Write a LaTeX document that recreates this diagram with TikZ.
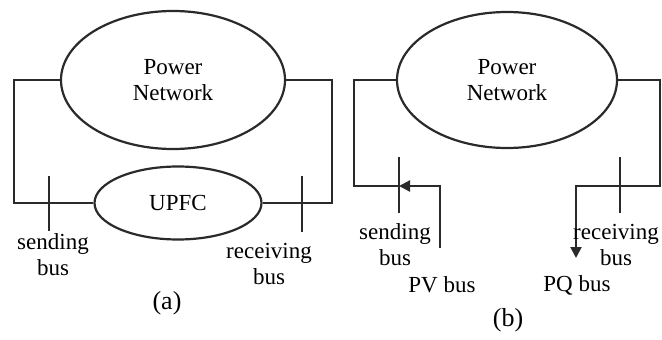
\documentclass[tikz,border=0pt]{standalone}
\usepackage{fontspec}
\setmainfont{Liberation Serif}
\usetikzlibrary{shapes.geometric,arrows.meta}
\definecolor{ink}{HTML}{2A2A2A}
\begin{document}
\begin{tikzpicture}[x=1pt,y=-1pt,
  wire/.style={line width=2.2pt,draw=ink},
  net/.style={draw=ink,ellipse,line width=2.2pt,inner sep=0pt,align=center,
    font=\fontsize{23}{26}\selectfont},
  lbl/.style={font=\fontsize{23}{26}\selectfont,inner sep=0pt,align=center},
  captxt/.style={font=\fontsize{26}{28}\selectfont,inner sep=0pt},
  arrowtip/.style={-{Triangle[length=11pt,width=11pt]}}]
\useasboundingbox[fill=white] (0,0) rectangle (662,340);
% ---------- panel (a)
\node[net,minimum width=224pt,minimum height=138pt] (pna) at (173,80) {Power\\Network};
\node[net,minimum width=167pt,minimum height=73pt] (upfc) at (178,203) {UPFC};
\coordinate (la) at (14,203);
\coordinate (ra) at (332,203);
\draw[wire] (pna.west) -| (la) -- (upfc.west);
\draw[wire] (pna.east) -| (ra) -- (upfc.east);
\coordinate (sa1) at (49,176);
\coordinate (sa2) at (49,231);
\coordinate (ra1) at (302,176);
\coordinate (ra2) at (302,232);
\draw[wire] (sa1) -- (sa2);
\draw[wire] (ra1) -- (ra2);
\node[lbl] (sla) at (53,255) {sending\\bus};
\node[lbl] (rla) at (269,264) {receiving\\bus};
\node[captxt] (capa) at (167,303) {(a)};
% ---------- panel (b)
\node[net,minimum width=220pt,minimum height=136pt] (pnb) at (507,80) {Power\\Network};
\coordinate (lb) at (354,186);
\coordinate (sbt) at (399,186);
\coordinate (sb1) at (399,157);
\coordinate (sb2) at (399,213);
\coordinate (pv) at (440,248);
\draw[wire] (pnb.west) -| (lb) -- (sbt);
\draw[wire] (sb1) -- (sb2);
\draw[wire,arrowtip] (pv) |- (sbt);
\coordinate (rb) at (660,186);
\coordinate (pq) at (576,258);
\coordinate (rb1) at (620,157);
\coordinate (rb2) at (620,213);
\draw[wire,arrowtip] (pnb.east) -| (rb) -| (pq);
\draw[wire] (rb1) -- (rb2);
\node[lbl] (slb) at (395,245) {sending\\bus};
\node[lbl] (rlb) at (616,245) {receiving\\bus};
\node[lbl] (pvl) at (442,285) {PV bus};
\node[lbl] (pql) at (577,285) {PQ bus};
\node[captxt] (capb) at (508,320) {(b)};
\end{tikzpicture}
\end{document}
